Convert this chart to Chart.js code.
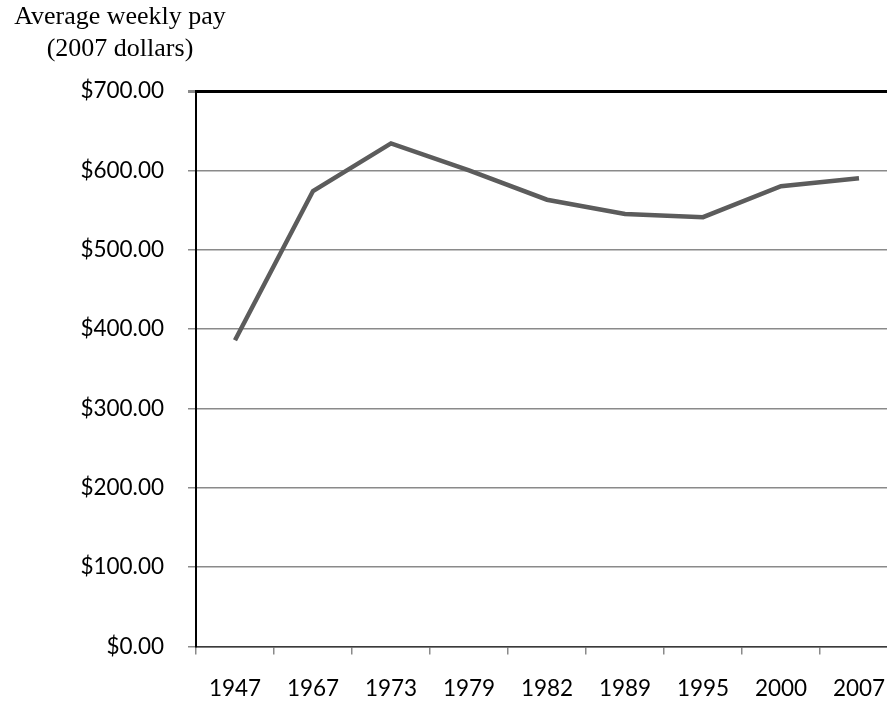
<!DOCTYPE html>
<html><head><meta charset="utf-8">
<script src="https://cdn.jsdelivr.net/npm/chart.js@4"></script>
<style>
html,body{margin:0;padding:0;background:#fff;overflow:hidden;width:887px;height:704px;}
#wrap{position:relative;width:887px;height:704px;overflow:hidden;}
canvas{position:absolute;left:0;top:0;}
.t{position:absolute;left:0;width:240px;text-align:center;font-family:"Liberation Serif","Times New Roman",serif;font-size:26px;line-height:1;color:#000;white-space:nowrap;}
</style></head>
<body><div id="wrap">
<canvas id="c" width="910" height="704"></canvas>
<div class="t" style="top:3px;">Average weekly pay</div>
<div class="t" style="top:35px;">(2007 dollars)</div>
</div>
<script>
const years = ["1947","1967","1973","1979","1982","1989","1995","2000","2007"];
const weeklyPay = [386, 574, 634, 600, 563, 545, 541, 580, 590];
const yTicks = [0,100,200,300,400,500,600,700];

const tickFont = { family: 'Lato, "Open Sans", sans-serif', size: 22.5 };
const ctx = document.getElementById('c').getContext('2d');
new Chart(ctx, {
  type: 'line',
  data: { labels: years, datasets: [{ data: weeklyPay, borderColor: '#5c5c5c', borderWidth: 4.5, pointRadius: 0, tension: 0, fill: false }] },
  options: {
    responsive: false, animation: false, devicePixelRatio: 1,
    layout: { padding: { top: 91, right: 12, left: 0, bottom: 0 } },
    plugins: { legend: { display: false }, tooltip: { enabled: false } },
    scales: {
      x: {
        offset: true,
        grid: { offset: true, drawOnChartArea: false, drawTicks: true, tickLength: 8, tickColor: '#8a8a8a', lineWidth: 1.5 },
        border: { color: '#3a3a3a', width: 1.5 },
        ticks: { color: '#000', font: tickFont, padding: 21, maxRotation: 0, autoSkip: false },
        afterFit: s => { s.height = 57.5; }
      },
      y: {
        min: 0, max: 700,
        afterBuildTicks: s => { s.ticks = yTicks.map(v => ({ value: v })); },
        grid: {
          drawTicks: true, tickLength: 8, tickColor: '#8a8a8a',
          color: c => c.tick && c.tick.value === 700 ? '#000' : '#8a8a8a',
          lineWidth: c => c.tick && c.tick.value === 700 ? 3 : 1.5
        },
        border: { color: '#000', width: 2 },
        ticks: { color: '#000', font: tickFont, padding: 24, callback: v => '$' + Number(v).toFixed(2) },
        afterFit: s => { s.width = 196; }
      }
    }
  }
});
</script>
</body></html>
